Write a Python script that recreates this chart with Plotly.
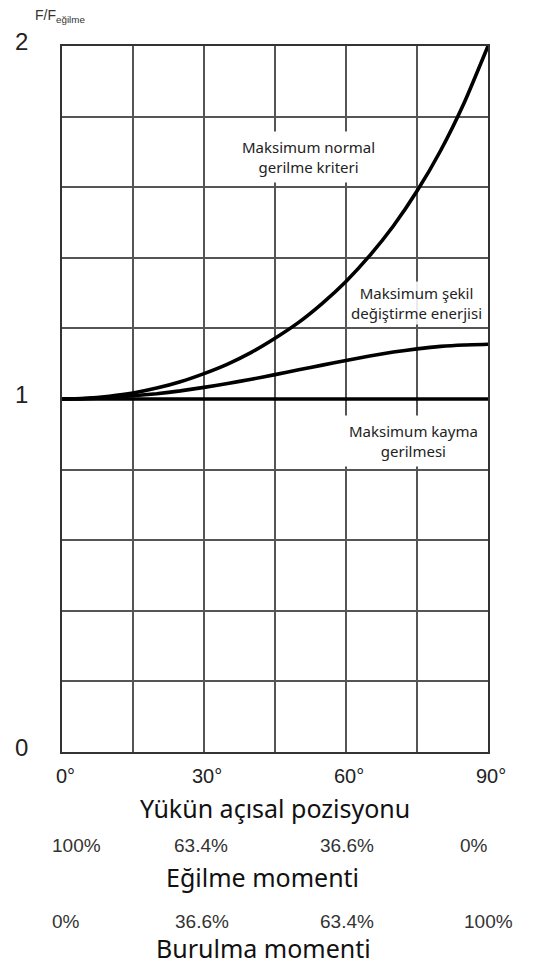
import plotly.graph_objects as go

# ---- data ----
angle_deg = [0, 5, 10, 15, 20, 25, 30, 35, 40, 45, 50, 55, 60, 65, 70, 75, 80, 85, 90]
normal_stress = [1.000, 1.002, 1.008, 1.017, 1.031, 1.049, 1.072, 1.099, 1.132, 1.172,
                 1.217, 1.271, 1.333, 1.406, 1.490, 1.589, 1.704, 1.840, 2.000]
distortion_energy = [1.000, 1.001, 1.004, 1.009, 1.015, 1.023, 1.033, 1.044, 1.056, 1.069,
                     1.083, 1.096, 1.109, 1.122, 1.133, 1.142, 1.149, 1.153, 1.155]
max_shear = [1.0] * len(angle_deg)

x_grid_vals = [0, 15, 30, 45, 60, 75, 90]
x_labels = ["0°", "30°", "60°", "90°"]
x_label_vals = [0, 30, 60, 90]
y_grid_vals = [0, 0.2, 0.4, 0.6, 0.8, 1.0, 1.2, 1.4, 1.6, 1.8, 2.0]
y_labels = ["0", "1", "2"]
y_label_vals = [0, 1, 2]

bending_pct = ["100%", "63.4%", "36.6%", "0%"]
torsion_pct = ["0%", "36.6%", "63.4%", "100%"]

W, H = 535, 967
ML, MR, MT, MB = 62, 47, 46, 215
PW, PH = W - ML - MR, H - MT - MB


def px(x):
    return (x - ML) / PW


def py(y):
    return (H - MB - y) / PH


fig = go.Figure()
for ys in (max_shear, distortion_energy, normal_stress):
    fig.add_trace(go.Scatter(
        x=angle_deg, y=ys, mode="lines",
        line=dict(color="black", width=3.6, shape="spline", smoothing=0.5),
        hoverinfo="skip", showlegend=False, cliponaxis=False))

ann = []
C = dict(xanchor="center", yanchor="middle", showarrow=False)
# y tick labels
for lab, v in zip(y_labels, y_label_vals):
    ann.append(dict(x=px(21), y=v, xref="paper", yref="y", text=lab, yshift=5,
                    font=dict(family="Liberation Sans", size=24, color="#222"), **C))
# x tick labels
for lab, v in zip(x_labels, x_label_vals):
    ann.append(dict(x=v, y=py(776), xref="x", yref="paper", text=lab, xshift=3,
                    font=dict(family="Liberation Sans", size=20, color="#222"), **C))
# y title
ann.append(dict(x=px(33), y=py(16), xref="paper", yref="paper", xanchor="left",
                yanchor="middle", showarrow=False,
                text="F/F<sub>eğilme</sub>",
                font=dict(family="Liberation Sans", size=14, color="#333")))

# inner labels
lab_font = dict(family="Noto Sans", size=15, color="#222")
ann.append(dict(x=px(308), y=py(157), xref="paper", yref="paper",
                text="Maksimum normal<br>gerilme kriteri",
                bgcolor="white", borderpad=5, font=lab_font, **C))
ann.append(dict(x=px(416), y=py(303), xref="paper", yref="paper",
                text="Maksimum şekil<br>değiştirme enerjisi",
                bgcolor="rgba(255,255,255,0.88)", borderpad=1, font=lab_font, **C))
ann.append(dict(x=px(413), y=py(441), xref="paper", yref="paper",
                text="Maksimum kayma<br>gerilmesi",
                bgcolor="white", borderpad=5, font=lab_font, **C))

# bottom texts
title_font = dict(family="Noto Sans", size=25, color="#111")
pct_font = dict(family="Liberation Sans", size=19, color="#333")
ann.append(dict(x=px(275), y=py(808), xref="paper", yref="paper",
                text="Yükün açısal pozisyonu", font=title_font, **C))
for t, cx in zip(bending_pct, [76, 201, 347, 474]):
    ann.append(dict(x=px(cx), y=py(845), xref="paper", yref="paper",
                    text=t, font=pct_font, **C))
ann.append(dict(x=px(262), y=py(877), xref="paper", yref="paper",
                text="Eğilme momenti", font=title_font, **C))
for t, cx in zip(torsion_pct, [66, 202, 347, 489]):
    ann.append(dict(x=px(cx), y=py(921), xref="paper", yref="paper",
                    text=t, font=pct_font, **C))
ann.append(dict(x=px(263), y=py(948), xref="paper", yref="paper",
                text="Burulma momenti", font=title_font, **C))

fig.update_layout(
    width=W, height=H,
    margin=dict(l=ML, r=MR, t=MT, b=MB, autoexpand=False),
    paper_bgcolor="white", plot_bgcolor="white",
    annotations=ann,
    xaxis=dict(range=[0, 90], tickvals=x_grid_vals, showticklabels=False,
               showgrid=True, gridcolor="#555", gridwidth=1.5,
               showline=True, linecolor="#333", linewidth=2, mirror=True,
               zeroline=False, ticks="", fixedrange=True),
    yaxis=dict(range=[0, 2], tickvals=y_grid_vals, showticklabels=False,
               showgrid=True, gridcolor="#555", gridwidth=1.5,
               showline=True, linecolor="#333", linewidth=2, mirror=True,
               zeroline=False, ticks="", fixedrange=True),
)

fig.write_html("out.html", config={"displayModeBar": False},
               post_script="document.body.style.margin='0';")
